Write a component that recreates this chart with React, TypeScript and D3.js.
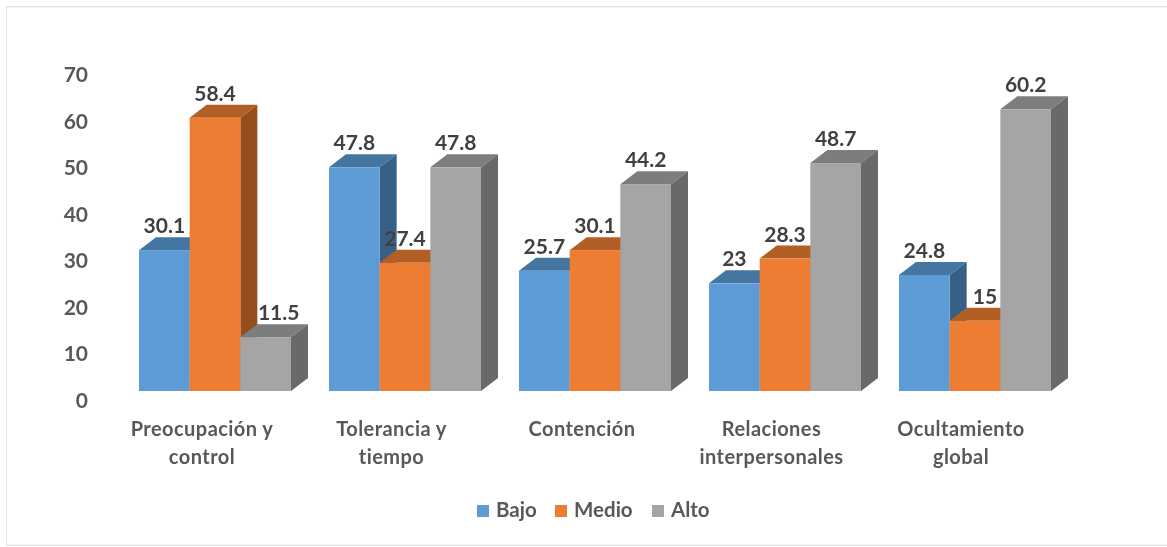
import React from "react";
import * as d3 from "d3";

const categories = [["Preocupación y", "control"], ["Tolerancia y", "tiempo"], ["Contención"], ["Relaciones", "interpersonales"], ["Ocultamiento", "global"]];
const categoryKeys = ["Preocupación y control", "Tolerancia y tiempo", "Contención", "Relaciones interpersonales", "Ocultamiento global"];
const seriesNames = ["Bajo", "Medio", "Alto"];
const bajo = [30.1, 47.8, 25.7, 23, 24.8];
const medio = [58.4, 27.4, 30.1, 28.3, 15];
const alto = [11.5, 47.8, 44.2, 48.7, 60.2];
const seriesValues = [bajo, medio, alto];
const yTicks = [0, 10, 20, 30, 40, 50, 60, 70];
const frontColors = ["#5b9bd5", "#ed7d31", "#a5a5a5"];
const topColors = ["#4475a1", "#b25e25", "#7d7d7d"];
const sideColors = ["#396186", "#964f1f", "#696969"];
const labelOffsetsX = [[0, 0, 13], [0, 0, 0], [0, 0, 0], [0, 0, 0], [0, 10, 0]];
const categoryLabelX = [202, 391.5, 582, 771.5, 961];

const W = 1167, H = 547;
const FONT = "Lato, Carlito, sans-serif";
const DX = 17, DY = 13;

export default function App() {
  const x0 = d3.scaleLinear().domain([0, 5]).range([139, 1089]);
  const groupW = 152;
  const x1 = d3.scaleBand<string>().domain(seriesNames).range([0, groupW]);
  const y = d3.scaleLinear().domain([0, 70]).range([391, 391 - 70 * 4.68]);
  const yLabel = d3.scaleLinear().domain([0, 70]).range([400.5, 75]);
  const bw = x1.bandwidth();
  return (
    <svg width={W} height={H} viewBox={`0 0 ${W} ${H}`} style={{ position: "absolute", left: 0, top: 0, display: "block", background: "#fff" }}>
      <defs>
        <filter id="soft" x="0" y="0" width="100%" height="100%">
          <feGaussianBlur stdDeviation="0.45" />
        </filter>
      </defs>
      <g filter="url(#soft)">
        <rect x={6} y={6.5} width={1170} height={539} fill="#fff" stroke="#e2e2e2" strokeWidth={1.8} />
        {yTicks.map(t => (
          <text key={t} x={88} y={yLabel(t)} dy="0.35em" textAnchor="end" fontFamily={FONT} fontWeight={700} fontSize={21} fill="#595959">{t}</text>
        ))}
        {categoryKeys.map((c, ci) => {
          const gx = x0(ci);
          return (
            <g key={c}>
              {seriesNames.map((s, si) => {
                const v = seriesValues[si][ci];
                const l = gx + x1(s)!, r = l + bw, t = y(v), b = y(0);
                const top = d3.path();
                top.moveTo(l, t); top.lineTo(l + DX, t - DY); top.lineTo(r + DX, t - DY); top.lineTo(r, t); top.closePath();
                const side = d3.path();
                side.moveTo(r, t); side.lineTo(r + DX, t - DY); side.lineTo(r + DX, b - DY); side.lineTo(r, b); side.closePath();
                return (
                  <g key={s}>
                    <path d={top.toString()} fill={topColors[si]} />
                    <path d={side.toString()} fill={sideColors[si]} />
                    <rect x={l} y={t} width={bw} height={b - t} fill={frontColors[si]} />
                  </g>
                );
              })}
            </g>
          );
        })}
        {categoryKeys.map((c, ci) => {
          const gx = x0(ci);
          return (
            <g key={c + "-labels"}>
              {seriesNames.map((s, si) => (
                <text key={s} x={gx + x1(s)! + bw / 2 + labelOffsetsX[ci][si]} y={y(seriesValues[si][ci]) - 17}
                  textAnchor="middle" fontFamily={FONT} fontWeight={700} fontSize={21} fill="#404040">{seriesValues[si][ci]}</text>
              ))}
              {categories[ci].map((line, li) => (
                <text key={line} x={categoryLabelX[ci]} y={436 + li * 28} textAnchor="middle" fontFamily={FONT} fontWeight={700} fontSize={20} letterSpacing={0.45} fill="#595959">{line}</text>
              ))}
            </g>
          );
        })}
        {seriesNames.map((s, si) => {
          const xs = [477, 555, 652];
          return (
            <g key={s}>
              <rect x={xs[si]} y={505} width={12} height={12} fill={frontColors[si]} />
              <text x={xs[si] + 19} y={517} fontFamily={FONT} fontWeight={700} fontSize={20.5} fill="#595959">{s}</text>
            </g>
          );
        })}
      </g>
    </svg>
  );
}
